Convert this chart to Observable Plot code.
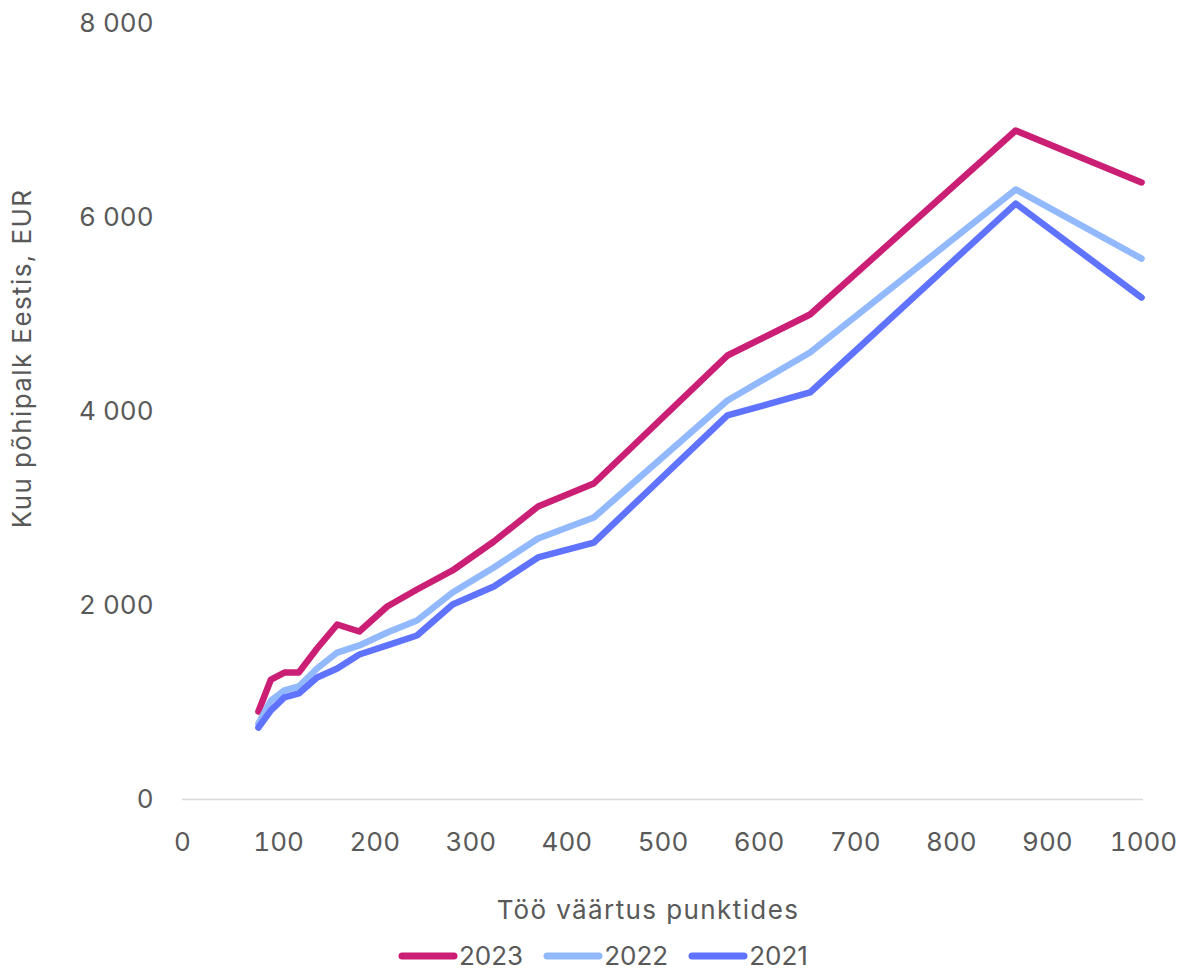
<!DOCTYPE html>
<html>
<head>
<meta charset="utf-8">
<script src="https://cdn.jsdelivr.net/npm/d3@7"></script>
<script src="https://cdn.jsdelivr.net/npm/@observablehq/plot@0.6"></script>
<style>
  html, body { margin: 0; padding: 0; background: #fff; }
  #wrap { position: relative; width: 1181px; height: 974px; font-family: Inter, "Open Sans", sans-serif; }
  #legend { position: absolute; left: 398px; top: 940px; display: flex; align-items: center; gap: 20px; font-size: 26px; color: #595959; }
  .item { display: flex; align-items: center; gap: 1px; }
</style>
</head>
<body>
<div id="wrap"><div id="chart"></div><div id="legend"></div></div>
<script>
const points = [79, 92, 106, 121, 140, 161, 184, 213, 244, 281, 324, 370, 428, 567, 653, 867, 998];
const y2023 = [907, 1237, 1309, 1309, 1557, 1804, 1732, 1990, 2165, 2361, 2660, 3021, 3258, 4577, 5000, 6897, 6361];
const y2022 = [784, 1020, 1124, 1165, 1351, 1515, 1588, 1722, 1845, 2134, 2392, 2691, 2907, 4113, 4608, 6289, 5577];
const y2021 = [742, 918, 1052, 1093, 1258, 1351, 1495, 1588, 1691, 2010, 2196, 2495, 2649, 3959, 4196, 6144, 5175];
const seriesNames = ["2023", "2022", "2021"];
const seriesColors = ["#CB1F76", "#92B9FD", "#5F73FE"];
const xTicks = [0, 100, 200, 300, 400, 500, 600, 700, 800, 900, 1000];
const yTicks = [0, 2000, 4000, 6000, 8000];
const xTitle = "Töö väärtus punktides";
const yTitle = "Kuu põhipalk Eestis, EUR";

const seriesValues = [y2023, y2022, y2021];
const rows = seriesValues.map((vals, s) => points.map((p, i) => ({x: p, y: vals[i], s: seriesNames[s]})));
const fmt = d => d3.format(",")(d).replace(/,/g, "\u00a0");

const chart = Plot.plot({
  width: 1181,
  height: 935,
  marginLeft: 182,
  marginRight: 38,
  marginTop: 23,
  marginBottom: 136,
  style: {fontFamily: "Inter, 'Open Sans', sans-serif", fontSize: "26px", color: "#595959", background: "#fff"},
  x: {domain: [0, 1000]},
  y: {domain: [0, 8000]},
  marks: [
    Plot.ruleY([0], {stroke: "#d9d9d9", strokeWidth: 1.5}),
    Plot.axisX({ticks: xTicks, tickSize: 0, tickPadding: 33, tickFormat: d => String(d), label: null, fill: "#595959", fontSize: 26}),
    Plot.axisY({ticks: yTicks, tickSize: 0, tickPadding: 29, tickFormat: fmt, label: null, fill: "#595959", fontSize: 26}),
    ...rows.map((r, s) => Plot.line(r, {x: "x", y: "y", stroke: seriesColors[s], strokeWidth: 6.5, strokeLinecap: "round", strokeLinejoin: "round"})),
    Plot.text([xTitle], {frameAnchor: "bottom", dx: -15, dy: 111, textAnchor: "middle", lineAnchor: "middle", fill: "#595959", fontSize: 26}),
    Plot.text([yTitle], {frameAnchor: "left", rotate: -90, dx: -160, dy: -53, textAnchor: "middle", lineAnchor: "middle", fill: "#595959", fontSize: 26})
  ]
});
document.getElementById("chart").appendChild(chart);
d3.select(chart).selectAll("text").filter(function() { const t = this.textContent; return t === xTitle || t === yTitle; }).style("letter-spacing", "1.4px");

const legend = document.getElementById("legend");
seriesNames.forEach((n, i) => {
  const item = document.createElement("div");
  item.className = "item";
  item.innerHTML = `<svg width="60" height="12"><line x1="4" y1="6" x2="56" y2="6" stroke="${seriesColors[i]}" stroke-width="7" stroke-linecap="round"/></svg><span>${n}</span>`;
  legend.appendChild(item);
});
</script>
</body>
</html>
